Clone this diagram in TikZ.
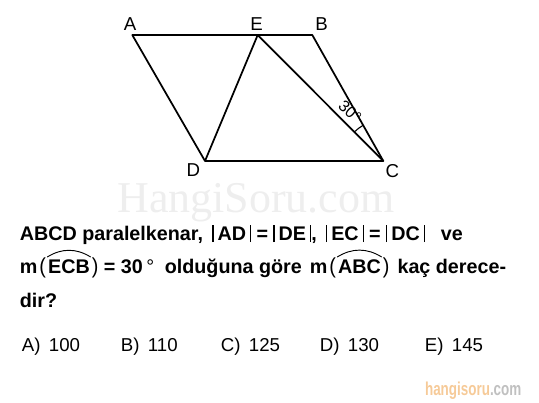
\documentclass[tikz,border=0pt]{standalone}
\usepackage{amsmath,amssymb}
\usepackage{graphicx}
\usepackage{fontspec}
\setmainfont{Liberation Sans}
\newfontfamily\wmfont{Liberation Serif}
\usepackage{xcolor}
\usetikzlibrary{positioning}

\definecolor{wmgray}{RGB}{238,238,238}
\definecolor{logoorange}{RGB}{246,202,152}
\definecolor{logogray}{RGB}{192,192,192}

\newcommand{\strich}{\rule[-1.5pt]{0.9pt}{13pt}}
\newcommand{\betrag}[1]{\strich\kern3pt#1\kern3pt\strich}
\newcommand{\gleich}{\kern4pt=\kern4pt}
\newcommand{\auf}{\kern1.5pt\textmd{\scalebox{1}[1.1]{(}}\kern0.3pt}
\newcommand{\zu}{\kern0.3pt\textmd{\scalebox{1}[1.1]{)}}}

\begin{document}
\begin{tikzpicture}[x=0.75pt, y=-0.75pt, line width=1.3pt,
    every node/.style={inner sep=0pt, font=\fontsize{14}{17}\selectfont},
    frage/.style={anchor=base west, font=\fontsize{14.8}{17}\selectfont\bfseries},
    bogen/.style={line width=0.7pt, bend left=32},
    antwort/.style={anchor=base west}]
    \useasboundingbox (0,0) rectangle (539,403);

    % Wasserzeichen
    \node[anchor=base, text=wmgray, font=\wmfont\fontsize{33}{36}\selectfont] (wasserzeichen) at (256,212) {HangiSoru.com};

    % Eckpunkte
    \coordinate (A) at (132.3,35);
    \coordinate (E) at (257.7,35);
    \coordinate (B) at (312.3,35);
    \coordinate (C) at (383.3,161);
    \coordinate (D) at (205,161);

    % Beschriftungen
    \node[above=2.5pt of A, xshift=-1.7pt] (lblA) {A};
    \node[above=2.5pt of E, xshift=-0.8pt] (lblE) {E};
    \node[above=2.5pt of B, xshift=7pt] (lblB) {B};
    \node[below=1.7pt of D, xshift=-8.8pt] (lblD) {D};
    \node[below=1.7pt of C, xshift=6.8pt] (lblC) {C};

    % Parallelkenar
    \draw[line join=round] (A) -- (B) -- (C) -- (D) -- cycle;
    \draw[line join=round] (D) -- (E) -- (C);

    % Winkel
    \draw[line width=0.8pt] (C) ++(-119.4:41) arc[start angle=-119.4, end angle=-135.1, radius=41];
    \node[rotate=-42, font=\fontsize{12}{14}\selectfont] (winkel) at (350,112) {30°};

    % Frage
    \node[frage] (zeile1) at (19,240) {ABCD paralelkenar,\hspace{7pt}\betrag{AD}\gleich\betrag{DE},\hspace{7pt}\betrag{EC}\gleich\betrag{DC}\hspace{12pt}ve};
    \node[frage] (zeile2a) at (19,273) {m\auf};
    \node[frage, base right=0pt of zeile2a] (ecb) {ECB};
    \node[frage, base right=0pt of ecb] (zeile2b) {\zu{} = 30\kern2.5pt\textmd{°}\hspace{8pt}olduğuna göre\hspace{6pt}m\auf};
    \node[frage, base right=0pt of zeile2b] (abc) {ABC};
    \node[frage, base right=0pt of abc] (zeile2c) {\zu\hspace{6pt}kaç derece-};
    \node[frage] (zeile3) at (19,307) {dir?};

    % Boegen
    \draw[bogen] ([yshift=1pt]ecb.north west) to ([yshift=1pt]ecb.north east);
    \draw[bogen] ([yshift=1pt]abc.north west) to ([yshift=1pt]abc.north east);

    % Antworten
    \foreach \x/\buchst/\wert [count=\i] in {21/A/100, 120/B/110, 220/C/125, 319/D/130, 424/E/145} {
        \node[antwort] (antwort\i) at (\x,351) {\buchst)\hspace{0.45em}\wert};
    }

    % Logo
    \node[anchor=base east, xscale=0.72, font=\fontsize{14}{17}\selectfont\bfseries] (logo) at (522,395) {\textcolor{logoorange}{hangisoru}\textcolor{logogray}{.com}};
\end{tikzpicture}
\end{document}
